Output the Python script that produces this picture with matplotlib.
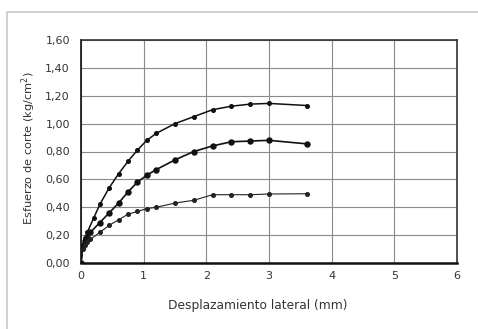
import matplotlib
matplotlib.use("Agg")
import matplotlib.pyplot as plt
from matplotlib.lines import Line2D
from matplotlib.ticker import FuncFormatter

plt.rcParams['font.family'] = ['DejaVu Sans']

# desplazamiento (mm) y esfuerzo (kg/cm2)
x_sup = [0, 0.03, 0.06, 0.1, 0.2, 0.3, 0.45, 0.6, 0.75, 0.9, 1.05, 1.2, 1.5, 1.8, 2.1, 2.4, 2.7, 3.0, 3.6]
y_sup = [0, 0.13, 0.18, 0.22, 0.32, 0.42, 0.54, 0.64, 0.73, 0.81, 0.88, 0.93, 1.00, 1.05, 1.10, 1.125, 1.14, 1.145, 1.13]

x_med = [0, 0.03, 0.06, 0.1, 0.15, 0.3, 0.45, 0.6, 0.75, 0.9, 1.05, 1.2, 1.5, 1.8, 2.1, 2.4, 2.7, 3.0, 3.6]
y_med = [0, 0.12, 0.16, 0.19, 0.22, 0.29, 0.36, 0.43, 0.51, 0.58, 0.63, 0.67, 0.74, 0.80, 0.84, 0.87, 0.875, 0.88, 0.855]

x_inf = [0, 0.03, 0.06, 0.1, 0.15, 0.3, 0.45, 0.6, 0.75, 0.9, 1.05, 1.2, 1.5, 1.8, 2.1, 2.4, 2.7, 3.0, 3.6]
y_inf = [0, 0.10, 0.13, 0.15, 0.17, 0.22, 0.27, 0.31, 0.35, 0.37, 0.39, 0.40, 0.43, 0.45, 0.49, 0.49, 0.49, 0.495, 0.497]

fig = plt.figure(figsize=(4.78, 3.29), dpi=100)
# marco exterior (solo lineas izquierda y superior visibles)
fig.lines.append(Line2D([7/478, 7/478, 1], [0, 1-12/329, 1-12/329], transform=fig.transFigure,
                        color='#c8c8c8', lw=1.2))
ax = fig.add_axes([81/478, 1-263/329, 376/478, 223/329])

ax.plot(x_sup, y_sup, color='#111111', lw=1.1, marker='o', ms=2.6)
ax.plot(x_med, y_med, color='#111111', lw=1.2, marker='o', ms=3.6)
ax.plot(x_inf, y_inf, color='#222222', lw=0.8, marker='o', ms=2.6)

ax.set_xlim(0, 6)
ax.set_ylim(0, 1.6)
ax.set_xticks(range(0, 7))
ax.set_yticks([i*0.2 for i in range(9)])
ax.yaxis.set_major_formatter(FuncFormatter(lambda v, p: ('%.2f' % v).replace('.', ',')))
ax.grid(True, color='#8a8a8a', lw=0.8)
ax.set_axisbelow(True)
ax.tick_params(length=0, labelsize=8, colors='#333333')
ax.tick_params(axis='y', pad=8)
ax.tick_params(axis='x', pad=6)
for s in ax.spines.values():
    s.set_color('#333333')
    s.set_linewidth(1.2)
ax.spines['left'].set_color('#111111')
ax.spines['bottom'].set_color('#111111')
ax.spines['bottom'].set_linewidth(1.8)

ax.set_xlabel('Desplazamiento lateral (mm)', fontsize=8.8, color='#333333', va='center')
ax.xaxis.set_label_coords((258-81)/376, (263-305)/223)
ax.set_ylabel('Esfuerzo de corte (kg/cm$^2$)', fontsize=8.2, color='#333333', va='center')
ax.yaxis.set_label_coords((28.5-81)/376, (263-148)/223)

fig.savefig('out.png', dpi=100)
